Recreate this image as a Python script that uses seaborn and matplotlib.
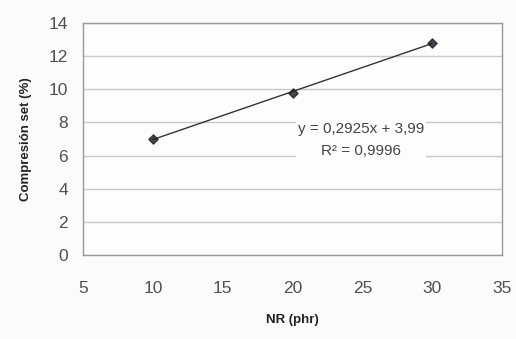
import matplotlib
matplotlib.use("Agg")
import matplotlib.pyplot as plt
import seaborn as sns
import numpy as np
import pandas as pd

nr_phr = [10, 20, 30]
compression_set = [7.0, 9.8, 12.8]
x_ticks = [5, 10, 15, 20, 25, 30, 35]
y_ticks = [0, 2, 4, 6, 8, 10, 12, 14]
eq_text = "y = 0,2925x + 3,99"
r2_text = "R² = 0,9996"

sns.set_theme(style="white")
plt.rcParams['font.family'] = ['Liberation Sans', 'DejaVu Sans']

df = pd.DataFrame({"NR": nr_phr, "CS": compression_set})

fig = plt.figure(figsize=(5.16, 3.39), dpi=100)
fig.patch.set_facecolor("#fbfbf9")
ax = fig.add_axes([0.161, 0.248, 0.812, 0.684])
ax.set_facecolor("#fdfdfb")

sns.regplot(data=df, x="NR", y="CS", ax=ax, ci=None, truncate=True,
            marker="D", scatter_kws=dict(s=22, color="#1a1a22", zorder=4),
            line_kws=dict(color="#333333", lw=1.0, zorder=3))

ax.set_xlim(5, 35)
ax.set_ylim(0, 14)
ax.set_xticks(x_ticks)
ax.set_yticks(y_ticks)
ax.yaxis.grid(True, color="#c8c8c8", lw=1.0)
ax.xaxis.grid(False)
for s in ax.spines.values():
    s.set_color("#9a9a9a")
    s.set_linewidth(1.0)
ax.tick_params(axis="both", length=0, labelsize=12.5, labelcolor="#505050")
ax.tick_params(axis="x", pad=19)
ax.tick_params(axis="y", pad=11)

ax.set_xlabel("NR (phr)", fontsize=9.5, fontweight="bold", color="#222222", labelpad=13)
ax.set_ylabel("Compresión set (%)", fontsize=9.5, fontweight="bold", color="#222222", labelpad=12)

ax.text(24.9, 6.95, eq_text + "\n" + r2_text, ha="center", va="center",
        fontsize=11, color="#444444", linespacing=1.75, zorder=5,
        bbox=dict(facecolor="#fdfdfb", edgecolor="none", pad=1.5))

fig.savefig("out.png", dpi=100, facecolor=fig.get_facecolor())
